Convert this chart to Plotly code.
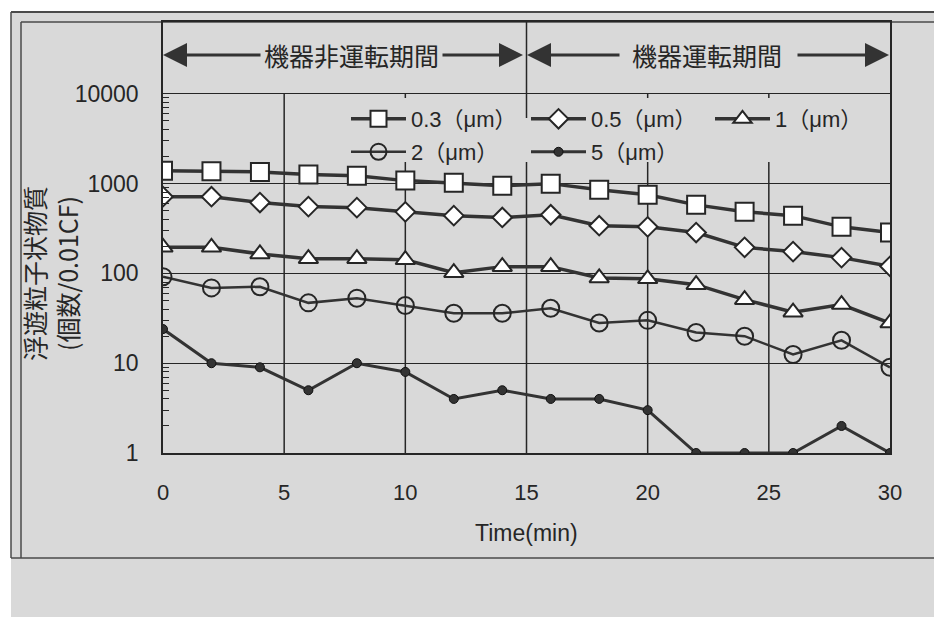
import plotly.graph_objects as go

# ---------------- data ----------------
time_min = [0, 2, 4, 6, 8, 10, 12, 14, 16, 18, 20, 22, 24, 26, 28, 30]
p03 = [1390, 1370, 1350, 1260, 1225, 1080, 1020, 950, 1000, 855, 750, 580, 485, 440, 330, 285]
p05 = [715, 715, 615, 555, 540, 485, 440, 420, 450, 340, 330, 285, 195, 175, 150, 120]
p1 = [195, 195, 165, 146, 146, 142, 102, 119, 119, 89, 87, 75, 51, 37, 45, 28]
p2 = [92, 69, 71, 47, 53, 44, 36, 36, 41, 28, 30, 22, 20, 12.5, 18, 9]
p5 = [24, 10, 9, 5, 10, 8, 4, 5, 4, 4, 3, 1, 1, 1, 2, 1]

series_names = ["0.3（μm）", "0.5（μm）", "1（μm）", "2（μm）", "5（μm）"]
x_ticks = [0, 5, 10, 15, 20, 25, 30]
y_ticks = [1, 10, 100, 1000, 10000]
y_ticklabels = ["1", "10", "100", "1000", "10000"]
y_minor = [m * 10 ** e for e in range(4) for m in range(2, 10)]
period_labels = ["機器非運転期間", "機器運転期間"]
y_title = "浮遊粒子状物質<br>(個数/0.01CF)"
x_title = "Time(min)"

# ---------------- layout geometry (reference pixels) ----------------
OFF = 8                      # page body margin of the html page
W, H = 942 - OFF, 617 - OFF
L, R, T, B = 163, 890, 22, 453
PW, PH = R - L, B - T
YMAX = 4.8
BG = "#d9d9d9"
INK = "#262626"
NUM_FONT = "Liberation Sans, Arial, 'Noto Sans CJK JP'"
JP_FONT = "'Noto Sans CJK JP', 'Liberation Sans'"


def xp(px):
    return (px - L) / PW


def yp(py):
    return (B - py) / PH


def xd(px):
    return (px - L) / PW * 30


def yd(py):
    return (B - py) / PH * YMAX


fig = go.Figure()

styles = [
    dict(symbol="square", size=18, color="white", line=dict(color=INK, width=2), lw=3.5),
    dict(symbol="diamond", size=15, color="white", line=dict(color=INK, width=2), lw=3.5),
    dict(symbol="triangle-up", size=17, color="white", line=dict(color=INK, width=2), lw=3.5),
    dict(symbol="circle-open", size=17, color=INK, line=dict(color=INK, width=2), lw=2.5),
    dict(symbol="circle", size=9, color="#333333", line=dict(color="#111111", width=1), lw=3),
]
legend_ids = ["legend", "legend2", "legend3", "legend4", "legend5"]
for name, ys, st, lg in zip(series_names, [p03, p05, p1, p2, p5], styles, legend_ids):
    lw = st.pop("lw")
    fig.add_trace(go.Scatter(
        x=time_min, y=ys, name=name, mode="lines+markers", legend=lg,
        line=dict(color="#333333", width=lw),
        marker=st,
    ))

shapes = []
# grey background and double frame
shapes.append(dict(type="rect", xref="paper", yref="paper", x0=xp(11), x1=xp(960), y0=yp(640), y1=yp(12),
                   fillcolor=BG, line=dict(width=0), layer="below"))
frame_lines = [
    ((11, 12), (960, 12), 2), ((11, 12), (11, 558), 1.5), ((11, 558), (960, 558), 1.5),
    ((21, 22), (21, 558), 1.5), ((21, 22), (960, 22), 1.5),
]
for (ax0, ay0), (ax1, ay1), w in frame_lines:
    shapes.append(dict(type="line", xref="paper", yref="paper", x0=xp(ax0), x1=xp(ax1), y0=yp(ay0), y1=yp(ay1),
                       line=dict(color="#4a4a4a", width=w), layer="below"))
# vertical gridlines (below 10000, interrupted behind the legend)
gap_top, gap_bot = 10 ** yd(98), 10 ** yd(162)
shapes.append(dict(type="line", xref="x", yref="y", x0=5, x1=5, y0=1, y1=1e4,
                   line=dict(color=INK, width=1.5), layer="below"))
for xv in [10, 20, 25]:
    shapes.append(dict(type="line", xref="x", yref="y", x0=xv, x1=xv, y0=1, y1=gap_bot,
                       line=dict(color=INK, width=1.5), layer="below"))
    shapes.append(dict(type="line", xref="x", yref="y", x0=xv, x1=xv, y0=gap_top, y1=1e4,
                       line=dict(color=INK, width=1.5), layer="below"))
# period separator at 15 min
shapes.append(dict(type="line", xref="x", yref="y", x0=15, x1=15, y0=1, y1=gap_bot,
                   line=dict(color=INK, width=1.5), layer="below"))
shapes.append(dict(type="line", xref="x", yref="y", x0=15, x1=15, y0=10 ** yd(118), y1=10 ** YMAX,
                   line=dict(color=INK, width=1.5), layer="below"))
fig.update_layout(shapes=shapes)

annotations = []
yl = yd(55)
annotations.append(dict(x=xd(351), y=yl, xref="x", yref="y", text=period_labels[0], showarrow=False,
                        font=dict(family=JP_FONT, size=25, color=INK)))
annotations.append(dict(x=xd(707), y=yl, xref="x", yref="y", text=period_labels[1], showarrow=False,
                        font=dict(family=JP_FONT, size=25, color=INK)))
for head, tail in [(163, 262), (523, 441), (527, 621), (889, 796)]:
    annotations.append(dict(x=xd(head), y=yl, xref="x", yref="y", ax=xd(tail), ay=yl, axref="x", ayref="y",
                            text="", showarrow=True, arrowhead=2, arrowsize=1.6, arrowwidth=3,
                            arrowcolor="#333333", standoff=0, startstandoff=0))
annotations.append(dict(x=xp(50), y=yp(274), xref="paper", yref="paper", text=y_title, showarrow=False,
                        xanchor="center", yanchor="middle",
                        textangle=-90, font=dict(family=JP_FONT, size=25, color=INK)))
annotations.append(dict(x=xp(526), y=yp(533), xref="paper", yref="paper", text=x_title, showarrow=False,
                        xanchor="center", yanchor="middle",
                        font=dict(family=NUM_FONT, size=23, color=INK)))
fig.update_layout(annotations=annotations)

# text start x of each legend entry and row centre y (reference pixels)
legend_pos = [(408, 119), (588, 119), (772, 119), (408, 152), (588, 152)]
legend_common = dict(orientation="h", xanchor="left", yanchor="middle", bgcolor="rgba(0,0,0,0)",
                     borderwidth=0, itemwidth=55, font=dict(family=NUM_FONT, size=22, color=INK))
legend_layout = {}
for lg, (tx, cy) in zip(legend_ids, legend_pos):
    legend_layout[lg] = dict(x=xp(tx - 62), y=yp(cy), **legend_common)

fig.update_layout(
    width=W, height=H,
    margin=dict(l=L - OFF, r=W - (R - OFF), t=T - OFF, b=H - (B - OFF)),
    paper_bgcolor="white",
    plot_bgcolor=BG,
    showlegend=True,
    xaxis=dict(
        range=[0, 30], tickvals=x_ticks, ticktext=[str(v) for v in x_ticks],
        showgrid=False, zeroline=False, showline=True, mirror=True,
        linecolor=INK, linewidth=1.5, ticks="", ticklabelstandoff=19,
        tickfont=dict(family=NUM_FONT, size=22, color=INK),
    ),
    yaxis=dict(
        type="log", range=[0, YMAX], tickvals=y_ticks, ticktext=y_ticklabels,
        showgrid=True, gridcolor=INK, gridwidth=1.2, zeroline=False,
        showline=True, mirror=True, linecolor=INK, linewidth=1.5, ticks="",
        tickfont=dict(family=NUM_FONT, size=23, color=INK), ticklabelstandoff=18,
        minor=dict(ticks="inside", ticklen=6, tickcolor=INK, tickvals=y_minor, showgrid=False),
    ),
    **legend_layout,
)

fig.write_html("out.html")
